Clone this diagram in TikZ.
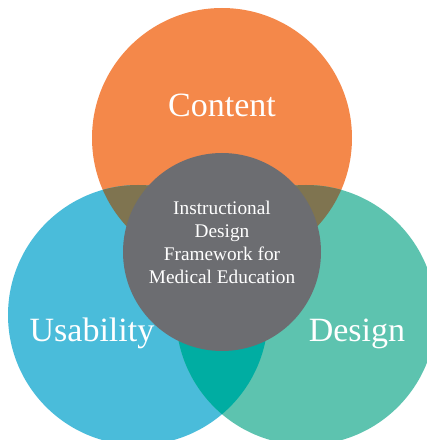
\documentclass[tikz,border=0pt]{standalone}
\usepackage{fontspec}
\setmainfont{Liberation Serif}
\usetikzlibrary{positioning}

\definecolor{contentorange}{HTML}{F4884A}
\definecolor{usabilityblue}{HTML}{4ABCDA}
\definecolor{designteal}{HTML}{5DC3AF}
\definecolor{overlapbrown}{HTML}{7F7450}
\definecolor{overlapteal}{HTML}{00ADA2}
\definecolor{coregrey}{HTML}{6C6D71}

\begin{document}
\begin{tikzpicture}[x=1pt,y=1pt,
    ring/.style={circle,inner sep=0pt,minimum size=260pt},
    big/.style={text=white,font=\fontsize{34}{40}\selectfont}]
      \useasboundingbox (0,0) rectangle (427,440);
      \node[ring,fill=contentorange] (content) at (222,302) {};
      \node[ring,fill=usabilityblue] (usability) at (138,125) {};
      \node[ring,fill=designteal] (design) at (306,125) {};
      \begin{scope}
        \clip (content.center) circle (130);
        \fill[overlapbrown] (usability.center) circle (130);
        \fill[overlapbrown] (design.center) circle (130);
      \end{scope}
      \begin{scope}
        \clip (usability.center) circle (130);
        \fill[overlapteal] (design.center) circle (130);
      \end{scope}
      \node[circle,inner sep=0pt,minimum size=198pt,fill=coregrey] (core) at (222,188) {};
      \node[big,anchor=base] (contentlbl) at (222,323) {Content};
      \node[big,anchor=base] (usabilitylbl) at (92,98) {Usability};
      \node[big,anchor=base] (designlbl) at (357,98) {Design};
      \node[text=white,align=center,font=\fontsize{19.3}{23}\selectfont,anchor=north]
        (corelbl) at (222,242) {Instructional\\Design\\Framework for\\Medical Education};
    \end{tikzpicture}
\end{document}
